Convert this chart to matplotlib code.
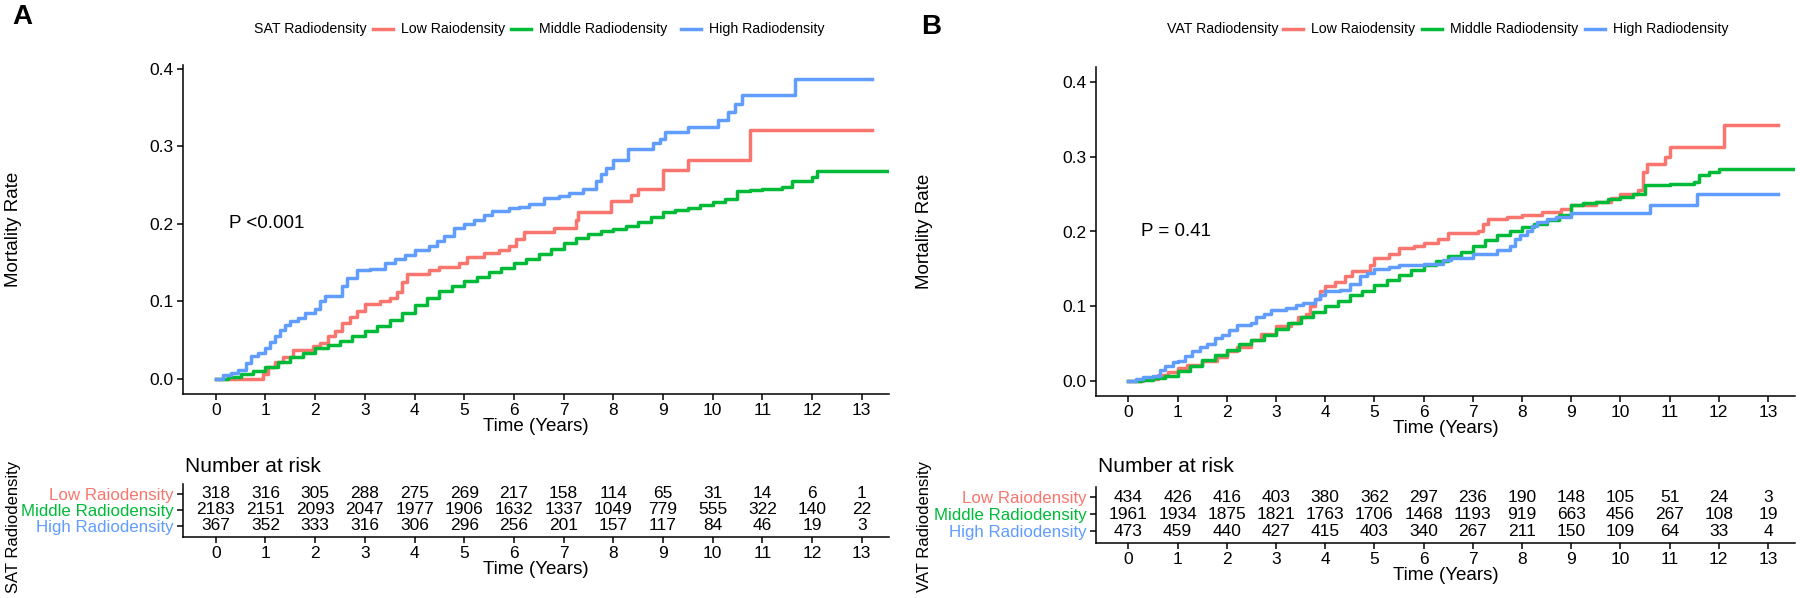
import matplotlib
matplotlib.use("Agg")
import matplotlib.pyplot as plt
from matplotlib.lines import Line2D

plt.rcParams['font.family'] = ['Liberation Sans', 'DejaVu Sans']

# ---- data ----
groups = ['Low Raiodensity', 'Middle Radiodensity', 'High Radiodensity']
colors = ['#F8766D', '#00BA38', '#619CFF']
risk_times = list(range(14))

# panel A: SAT radiodensity
sat_low_t = [0, 0.95, 1.05, 1.2, 1.35, 1.55, 1.95, 2.1, 2.25, 2.4, 2.55, 2.7, 2.85, 3.0, 3.3, 3.5, 3.65, 3.75,
             3.85, 4.3, 4.5, 4.9, 5.05, 5.4, 5.7, 5.9, 6.05, 6.2, 6.8, 7.25, 7.3, 7.95, 8.35, 8.5, 9.0, 9.5, 10.75, 13.2]
sat_low_v = [0, 0.007, 0.015, 0.022, 0.028, 0.038, 0.042, 0.047, 0.055, 0.062, 0.072, 0.08, 0.088, 0.097, 0.1, 0.105,
             0.112, 0.125, 0.135, 0.14, 0.145, 0.15, 0.157, 0.163, 0.167, 0.172, 0.18, 0.19, 0.195, 0.205, 0.215, 0.23,
             0.237, 0.245, 0.27, 0.283, 0.321, 0.321]
sat_mid_t = [0, 0.25, 0.5, 0.75, 1.0, 1.25, 1.5, 1.75, 2.0, 2.25, 2.5, 2.75, 3.0, 3.25, 3.5, 3.75, 4.0, 4.25, 4.5,
             4.75, 5.0, 5.25, 5.5, 5.75, 6.0, 6.25, 6.5, 6.75, 7.0, 7.25, 7.5, 7.75, 8.0, 8.25, 8.5, 8.75, 9.0, 9.25,
             9.5, 9.75, 10.0, 10.25, 10.5, 10.75, 11.0, 11.4, 11.6, 12.0, 12.1, 13.6]
sat_mid_v = [0, 0.003, 0.006, 0.01, 0.016, 0.022, 0.028, 0.033, 0.04, 0.044, 0.049, 0.055, 0.062, 0.068, 0.076,
             0.085, 0.096, 0.104, 0.113, 0.12, 0.126, 0.132, 0.138, 0.143, 0.15, 0.155, 0.161, 0.168, 0.175, 0.182,
             0.187, 0.191, 0.193, 0.197, 0.203, 0.209, 0.215, 0.218, 0.22, 0.224, 0.228, 0.232, 0.242, 0.244, 0.245,
             0.248, 0.256, 0.26, 0.268, 0.268]
sat_high_t = [0, 0.15, 0.3, 0.45, 0.6, 0.7, 0.85, 1.0, 1.1, 1.2, 1.3, 1.4, 1.5, 1.65, 1.8, 2.0, 2.1, 2.2, 2.55, 2.65,
              2.85, 3.1, 3.4, 3.6, 3.8, 4.0, 4.3, 4.45, 4.6, 4.8, 5.0, 5.2, 5.4, 5.55, 5.9, 6.1, 6.3, 6.6, 6.9, 7.1,
              7.4, 7.65, 7.75, 7.85, 8.0, 8.3, 8.8, 8.95, 9.05, 9.5, 10.1, 10.3, 10.45, 10.6, 11.65, 13.2]
sat_high_v = [0, 0.005, 0.008, 0.012, 0.02, 0.03, 0.033, 0.04, 0.048, 0.055, 0.063, 0.07, 0.075, 0.078, 0.085, 0.09,
              0.1, 0.107, 0.12, 0.13, 0.14, 0.142, 0.15, 0.155, 0.16, 0.167, 0.172, 0.178, 0.185, 0.195, 0.2, 0.205,
              0.212, 0.217, 0.22, 0.222, 0.226, 0.233, 0.236, 0.24, 0.245, 0.255, 0.265, 0.272, 0.282, 0.296, 0.305,
              0.31, 0.318, 0.325, 0.334, 0.345, 0.355, 0.366, 0.387, 0.387]
sat_risk_low = [318, 316, 305, 288, 275, 269, 217, 158, 114, 65, 31, 14, 6, 1]
sat_risk_mid = [2183, 2151, 2093, 2047, 1977, 1906, 1632, 1337, 1049, 779, 555, 322, 140, 22]
sat_risk_high = [367, 352, 333, 316, 306, 296, 256, 201, 157, 117, 84, 46, 19, 3]

# panel B: VAT radiodensity
vat_low_t = [0, 0.3, 0.6, 0.8, 1.0, 1.2, 1.5, 1.8, 2.0, 2.2, 2.5, 2.7, 3.0, 3.3, 3.45, 3.6, 3.7, 3.8, 3.9, 4.0, 4.2,
             4.4, 4.55, 4.9, 5.0, 5.3, 5.5, 5.8, 6.0, 6.3, 6.5, 7.1, 7.2, 7.3, 7.7, 8.0, 8.4, 8.8, 9.0, 9.5, 9.8,
             10.0, 10.35, 10.45, 10.55, 10.9, 11.0, 12.1, 13.2]
vat_low_v = [0, 0.003, 0.008, 0.012, 0.017, 0.022, 0.027, 0.032, 0.04, 0.045, 0.055, 0.063, 0.073, 0.078, 0.085,
             0.09, 0.1, 0.11, 0.12, 0.127, 0.132, 0.14, 0.147, 0.155, 0.165, 0.17, 0.178, 0.18, 0.185, 0.19, 0.198,
             0.2, 0.21, 0.217, 0.22, 0.222, 0.226, 0.23, 0.235, 0.24, 0.245, 0.25, 0.255, 0.28, 0.29, 0.3, 0.313,
             0.343, 0.343]
vat_mid_t = [0, 0.25, 0.5, 0.75, 1.0, 1.25, 1.5, 1.75, 2.0, 2.25, 2.5, 2.75, 3.0, 3.25, 3.5, 3.75, 4.0, 4.25, 4.5,
             4.75, 5.0, 5.25, 5.5, 5.75, 6.0, 6.25, 6.5, 6.75, 7.0, 7.25, 7.5, 7.75, 8.0, 8.25, 8.5, 8.75, 9.0, 9.25,
             9.5, 9.75, 10.0, 10.25, 10.5, 11.0, 11.5, 11.6, 11.8, 12.0, 13.6]
vat_mid_v = [0, 0.002, 0.004, 0.007, 0.013, 0.02, 0.028, 0.035, 0.042, 0.049, 0.055, 0.062, 0.07, 0.077, 0.085,
             0.093, 0.1, 0.107, 0.115, 0.121, 0.128, 0.135, 0.142, 0.148, 0.155, 0.161, 0.167, 0.173, 0.18, 0.188,
             0.195, 0.2, 0.206, 0.21, 0.215, 0.222, 0.235, 0.238, 0.24, 0.243, 0.246, 0.25, 0.262, 0.264, 0.266,
             0.275, 0.28, 0.284, 0.284]
vat_high_t = [0, 0.15, 0.3, 0.5, 0.65, 0.75, 0.9, 1.0, 1.15, 1.3, 1.45, 1.6, 1.75, 1.9, 2.05, 2.2, 2.5, 2.6, 2.75,
              2.9, 3.2, 3.4, 3.55, 3.8, 3.9, 4.0, 4.3, 4.5, 4.7, 4.85, 5.0, 5.3, 5.5, 6.0, 6.4, 6.55, 7.0, 7.5, 7.75,
              7.85, 7.95, 8.1, 8.2, 8.3, 8.5, 8.7, 9.0, 10.6, 11.55, 13.2]
vat_high_v = [0, 0.003, 0.005, 0.007, 0.015, 0.02, 0.025, 0.027, 0.033, 0.04, 0.045, 0.05, 0.057, 0.062, 0.068,
              0.075, 0.078, 0.085, 0.09, 0.095, 0.098, 0.102, 0.105, 0.11, 0.115, 0.12, 0.122, 0.13, 0.14, 0.145,
              0.15, 0.153, 0.155, 0.157, 0.162, 0.165, 0.17, 0.175, 0.18, 0.19, 0.195, 0.2, 0.208, 0.213, 0.217,
              0.22, 0.225, 0.235, 0.25, 0.25]
vat_risk_low = [434, 426, 416, 403, 380, 362, 297, 236, 190, 148, 105, 51, 24, 3]
vat_risk_mid = [1961, 1934, 1875, 1821, 1763, 1706, 1468, 1193, 919, 663, 456, 267, 108, 19]
vat_risk_high = [473, 459, 440, 427, 415, 403, 340, 267, 211, 150, 109, 64, 33, 4]

W, H = 1800, 598
fig = plt.figure(figsize=(W / 100, H / 100), dpi=100)


def fx(px):
    return px / W


def fy(py):
    return 1 - py / H


def style(ax):
    for s in ['top', 'right']:
        ax.spines[s].set_visible(False)
    for s in ['left', 'bottom']:
        ax.spines[s].set_linewidth(1.1)
    ax.tick_params(length=4, width=1.1, labelsize=12.5, colors='black', pad=2.5)


def panel(x0, x1, main_top, main_bot, ylim, curves, risks, tab_top, tab_bot, letter, letter_xy,
          lab_x, title, pval, leg_x, leg_keys):
    ax = fig.add_axes([fx(x0), fy(main_bot), fx(x1 - x0), (main_bot - main_top) / H])
    for (t, v), c, g in zip(curves, colors, groups):
        ax.step(t, v, where='post', color=c, lw=2.5, label=g)
    ax.set_xlim(-0.66, 13.55)
    ax.set_ylim(*ylim)
    ax.set_xticks(risk_times)
    ax.set_yticks([0, 0.1, 0.2, 0.3, 0.4])
    ax.set_yticklabels(['0.0', '0.1', '0.2', '0.3', '0.4'])
    style(ax)
    ax.set_xlabel('Time (Years)', fontsize=13.5, labelpad=0)
    ax.text(0.26, 0.2, pval, fontsize=13.5, va='center', ha='left')
    fig.text(fx(lab_x), fy((main_top + main_bot) / 2), 'Mortality Rate', rotation=90,
             fontsize=13.5, ha='center', va='center')

    # risk table
    tb = fig.add_axes([fx(x0), fy(tab_bot), fx(x1 - x0), (tab_bot - tab_top) / H])
    tb.set_xlim(-0.66, 13.55)
    tb.set_ylim(0.3, 3.6)
    for row, vals in enumerate(risks):
        for t, n in zip(risk_times, vals):
            tb.text(t, 3 - row, str(n), ha='center', va='center', fontsize=12.5)
    tb.set_xticks(risk_times)
    tb.set_yticks([3, 2, 1])
    tb.set_yticklabels(groups)
    style(tb)
    tb.tick_params(axis='y', labelsize=12.2)
    for lab, c in zip(tb.get_yticklabels(), colors):
        lab.set_color(c)
    tb.set_xlabel('Time (Years)', fontsize=13.5, labelpad=0)
    fig.text(fx(x0 + 2), fy(467), 'Number at risk', fontsize=15, ha='left', va='center')
    fig.text(fx(lab_x), fy(527), title + ' Radiodensity', rotation=90, fontsize=12,
             ha='center', va='center')

    # panel letter and legend row
    fig.text(fx(letter_xy[0]), fy(letter_xy[1]), letter, fontsize=20, fontweight='bold',
             ha='center', va='center')
    fig.text(fx(leg_x), fy(29), title + ' Radiodensity', fontsize=10.2, ha='left', va='center')
    for k0, c, g in zip(leg_keys, colors, groups):
        fig.add_artist(Line2D([fx(k0), fx(k0 + 20)], [fy(29), fy(29)], color=c, lw=2.5,
                              transform=fig.transFigure))
        fig.text(fx(k0 + 28), fy(29), g, fontsize=10.2, ha='left', va='center')


panel(183, 889, 65, 394, (-0.0194, 0.405),
      [(sat_low_t, sat_low_v), (sat_mid_t, sat_mid_v), (sat_high_t, sat_high_v)],
      [sat_risk_low, sat_risk_mid, sat_risk_high], 484, 537,
      'A', (22, 17), 14, 'SAT', 'P <0.001', 254, [373, 511, 681])

panel(1096, 1795, 67, 396, (-0.02, 0.42),
      [(vat_low_t, vat_low_v), (vat_mid_t, vat_mid_v), (vat_high_t, vat_high_v)],
      [vat_risk_low, vat_risk_mid, vat_risk_high], 487, 543,
      'B', (931, 27), 925, 'VAT', 'P = 0.41', 1167, [1283, 1422, 1585])

fig.savefig('out.png', dpi=100)
